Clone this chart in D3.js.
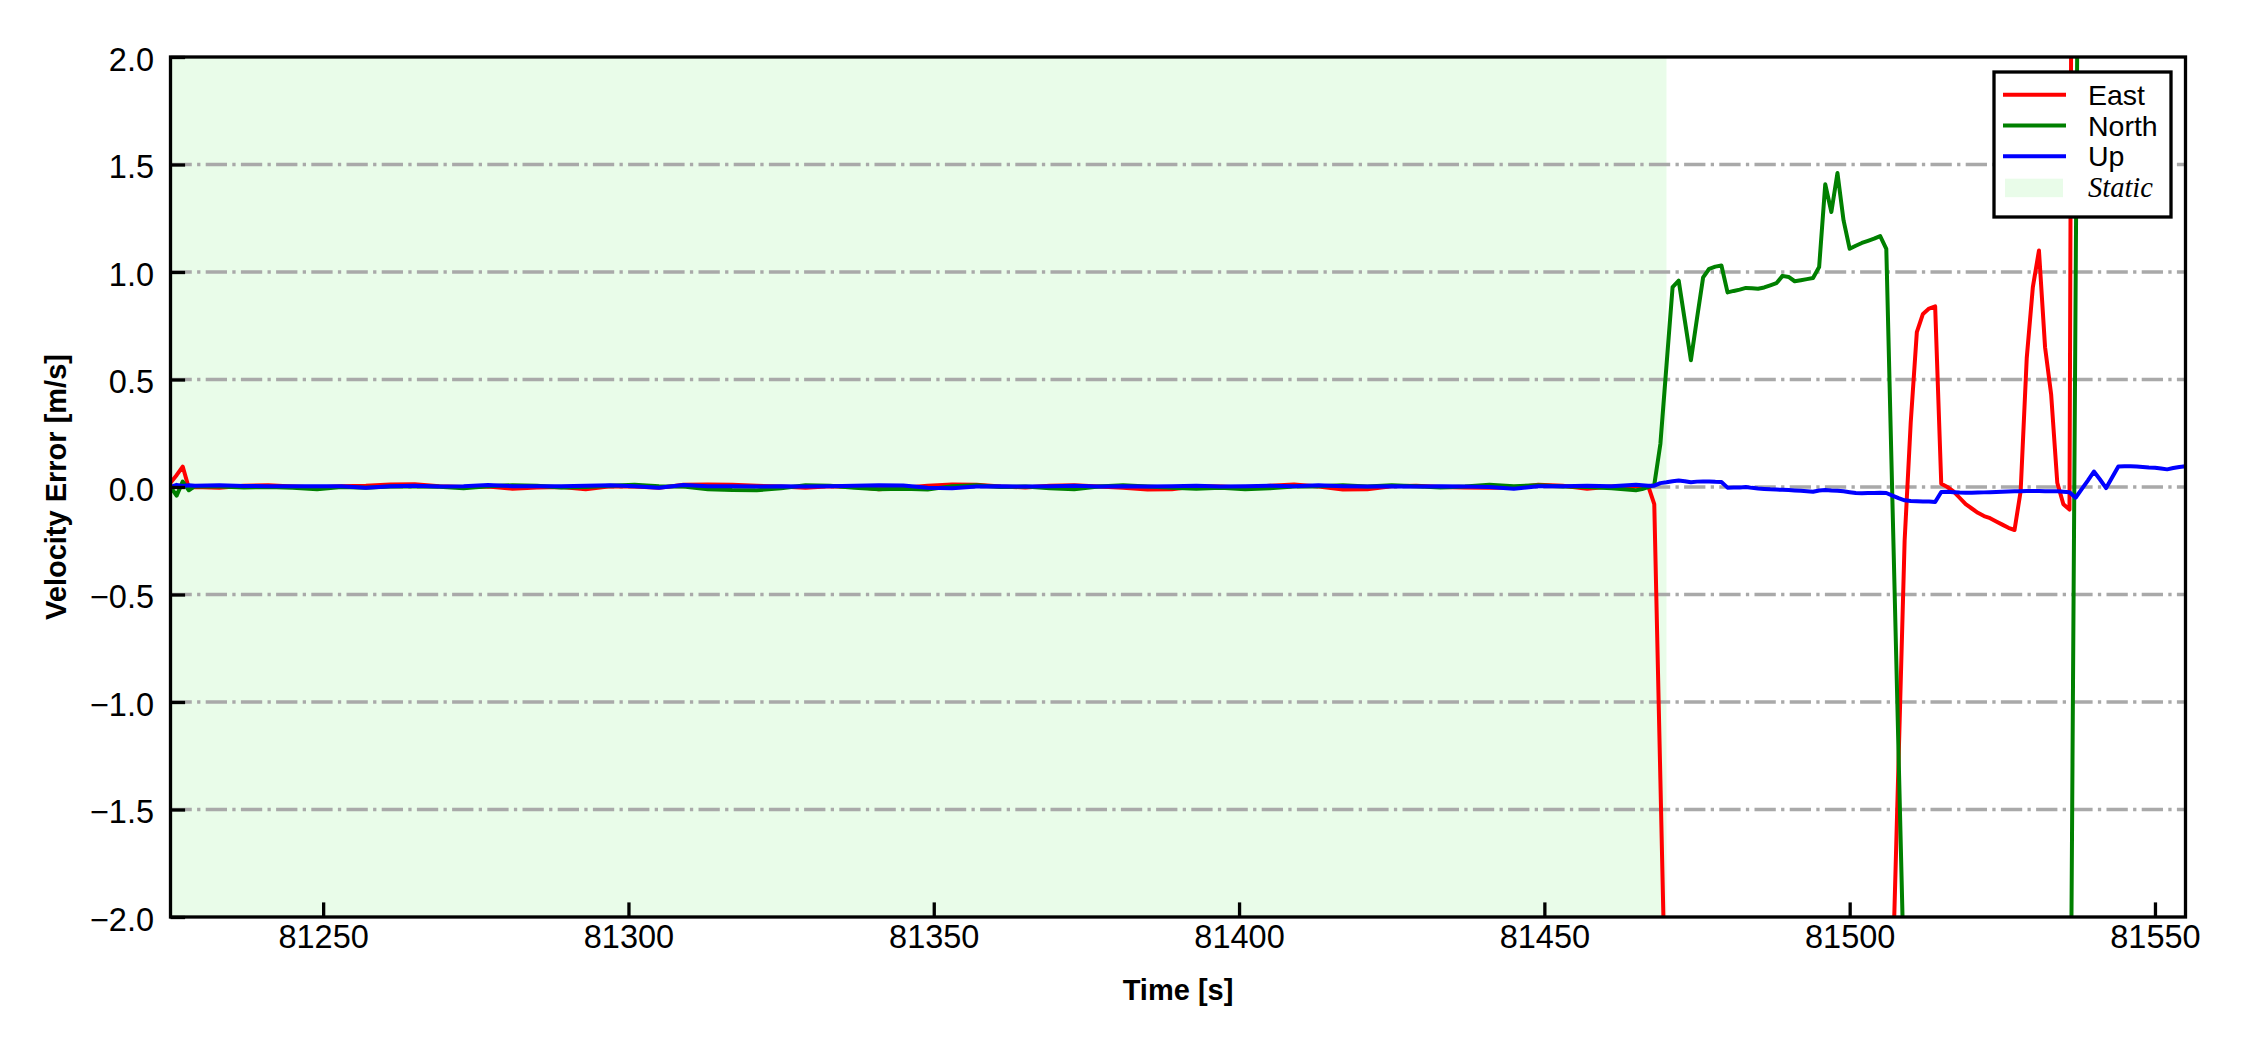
<!DOCTYPE html>
<html>
<head>
<meta charset="utf-8">
<script src="https://cdn.jsdelivr.net/npm/d3@7"></script>
<style>
  body { margin: 0; background: #fff; }
  text { font-family: "Liberation Sans", Arial, sans-serif; fill: #000; }
</style>
</head>
<body>
<svg width="2250" height="1050"></svg>
<script>
// sample times [s] (static part thinned to 4 s, moving part 1 Hz)
var time = [81225, 81226, 81227, 81228,
  81229, 81233, 81237, 81241, 81245, 81249, 81253, 81257, 81261, 81265,
  81269, 81273, 81277, 81281, 81285, 81289, 81293, 81297, 81301, 81305,
  81309, 81313, 81317, 81321, 81325, 81329, 81333, 81337, 81341, 81345,
  81349, 81353, 81357, 81361, 81365, 81369, 81373, 81377, 81381, 81385,
  81389, 81393, 81397, 81401, 81405, 81409, 81413, 81417, 81421, 81425,
  81429, 81433, 81437, 81441, 81445, 81449, 81453, 81457, 81461, 81465,
  81466, 81467, 81468, 81469, 81470, 81471, 81472, 81473, 81474, 81475,
  81476, 81477, 81478, 81479, 81480, 81481, 81482, 81483, 81484, 81485,
  81486, 81487, 81488, 81489, 81490, 81491, 81492, 81493, 81494, 81495,
  81496, 81497, 81498, 81499, 81500, 81501, 81502, 81503, 81504, 81505,
  81506, 81507, 81508, 81509, 81510, 81511, 81512, 81513, 81514, 81515,
  81516, 81517, 81518, 81519, 81520, 81521, 81522, 81523, 81524, 81525,
  81526, 81527, 81528, 81529, 81530, 81531, 81532, 81533, 81534, 81535,
  81536, 81537, 81538, 81539, 81540, 81541, 81542, 81543, 81544, 81545,
  81546, 81547, 81548, 81549, 81550, 81551, 81552, 81553, 81554, 81555];

var east = [0.020, 0.055, 0.095, -0.005,
  0.000, -0.004, 0.006, 0.008, 0.002, -0.002, 0.004, 0.006, 0.012, 0.013,
  0.004, 0.000, 0.002, -0.008, -0.002, 0.000, -0.010, 0.004, 0.002, -0.004,
  0.010, 0.012, 0.010, 0.006, 0.002, -0.004, 0.004, 0.002, -0.010, -0.004,
  0.006, 0.012, 0.010, 0.002, -0.002, 0.006, 0.008, 0.002, -0.004, -0.012,
  -0.010, 0.004, 0.002, -0.004, 0.006, 0.012, 0.002, -0.012, -0.010, 0.004,
  0.006, 0.000, -0.002, -0.004, -0.004, 0.010, 0.006, -0.008, 0.002, 0.004,
  0.004, 0.005, -0.080, -1.36, -2.65, -3.10, -3.40, -3.25, -3.10, -3.05,
  -3.20, -3.30, -3.20, -3.10, -3.00, -3.15, -3.30, -3.40, -3.35, -3.20,
  -3.10, -3.05, -3.15, -3.30, -3.45, -3.50, -3.40, -3.25, -3.10, -3.00,
  -3.20, -3.40, -3.55, -3.50, -3.35, -3.20, -3.10, -3.05, -3.15, -3.00,
  -2.95, -2.31, -1.28, -0.25, 0.30, 0.72, 0.805, 0.83, 0.84, 0.015,
  0.000, -0.020, -0.050, -0.080, -0.100, -0.120, -0.135, -0.145, -0.160, -0.175,
  -0.190, -0.200, -0.020, 0.600, 0.930, 1.100, 0.650, 0.430, 0.020, -0.080,
  -0.105, 8.00, 8.40, 8.10, 7.80, 7.60, 7.90, 8.20, 8.50, 8.30,
  8.00, 7.70, 7.50, 7.80, 8.10, 8.40, 8.20, 7.90, 7.70, 7.60];

var north = [0.000, -0.040, 0.025, -0.015,
  0.004, 0.002, -0.002, 0.000, -0.004, -0.010, 0.000, -0.003, 0.002, 0.004,
  0.001, -0.006, 0.004, 0.008, 0.006, -0.002, 0.000, 0.006, 0.011, 0.004,
  0.002, -0.010, -0.014, -0.015, -0.006, 0.008, 0.006, -0.004, -0.010, -0.008,
  -0.012, 0.004, 0.008, 0.000, 0.002, -0.006, -0.010, 0.002, 0.008, 0.002,
  -0.004, -0.008, -0.004, -0.010, -0.006, 0.002, 0.004, 0.008, 0.002, 0.008,
  0.004, -0.002, 0.002, 0.010, 0.004, 0.008, 0.002, 0.000, -0.006, -0.015,
  -0.010, 0.000, 0.010, 0.200, 0.565, 0.930, 0.960, 0.775, 0.590, 0.785,
  0.975, 1.015, 1.025, 1.030, 0.905, 0.912, 0.918, 0.926, 0.924, 0.922,
  0.928, 0.938, 0.948, 0.982, 0.977, 0.957, 0.962, 0.967, 0.972, 1.023,
  1.408, 1.279, 1.460, 1.240, 1.108, 1.122, 1.135, 1.145, 1.155, 1.167,
  1.108, -0.062, -1.232, -2.402, -3.10, -3.30, -3.45, -3.50, -3.40, -3.25,
  -3.15, -3.20, -3.35, -3.50, -3.60, -3.55, -3.40, -3.30, -3.25, -3.35,
  -3.50, -3.60, -3.70, -3.65, -3.50, -3.40, -3.30, -3.35, -3.45, -3.50,
  -3.40, 0.90, 5.20, 5.60, 5.80, 5.50, 5.30, 5.60, 5.90, 6.10,
  5.90, 5.70, 5.50, 5.40, 5.60, 5.80, 6.00, 5.90, 5.70, 5.60];

var up = [0.000, 0.010, 0.005, 0.008,
  0.006, 0.008, 0.005, 0.004, 0.004, 0.003, 0.004, -0.003, 0.003, 0.006,
  0.002, 0.004, 0.009, 0.004, 0.003, 0.004, 0.006, 0.008, 0.004, -0.003,
  0.009, 0.003, 0.004, 0.002, 0.004, 0.002, 0.004, 0.006, 0.008, 0.007,
  -0.004, -0.006, 0.002, 0.004, 0.002, 0.004, 0.006, 0.002, 0.004, 0.002,
  0.004, 0.006, 0.002, 0.004, 0.006, 0.004, 0.008, 0.004, 0.002, 0.004,
  0.002, 0.004, 0.002, 0.000, -0.008, 0.004, 0.004, 0.006, 0.004, 0.010,
  0.008, 0.006, 0.006, 0.018, 0.022, 0.027, 0.030, 0.027, 0.022, 0.025,
  0.026, 0.026, 0.024, 0.023, -0.003, -0.002, -0.002, 0.000, -0.004, -0.007,
  -0.009, -0.011, -0.012, -0.013, -0.014, -0.016, -0.018, -0.020, -0.022, -0.016,
  -0.014, -0.016, -0.017, -0.020, -0.024, -0.028, -0.029, -0.028, -0.028, -0.027,
  -0.028, -0.040, -0.052, -0.062, -0.065, -0.066, -0.067, -0.068, -0.070, -0.023,
  -0.022, -0.024, -0.026, -0.027, -0.027, -0.026, -0.025, -0.024, -0.023, -0.022,
  -0.021, -0.020, -0.020, -0.019, -0.019, -0.019, -0.020, -0.020, -0.020, -0.022,
  -0.024, -0.050, -0.010, 0.030, 0.072, 0.035, -0.005, 0.045, 0.095, 0.096,
  0.096, 0.095, 0.093, 0.091, 0.090, 0.086, 0.082, 0.088, 0.093, 0.097];

var seriesNames = ["East", "North", "Up"];
var seriesColors = ["#ff0000", "#008000", "#0000ff"];
var staticSpan = [81225, 81470];
var xTicks = [81250, 81300, 81350, 81400, 81450, 81500, 81550];
var yTicks = [-2.0, -1.5, -1.0, -0.5, 0.0, 0.5, 1.0, 1.5, 2.0];
var gridTicks = [-1.5, -1.0, -0.5, 0.0, 0.5, 1.0, 1.5];

var svg = d3.select("svg"),
    margin = {top: 57, right: 64.5, bottom: 133, left: 170.5},
    width = +svg.attr("width") - margin.left - margin.right,
    height = +svg.attr("height") - margin.top - margin.bottom;

var x = d3.scaleLinear().domain([81225, 81555]).range([0, width]);
var y = d3.scaleLinear().domain([-2, 2]).range([height, 0]);

var lw = 3.3;

var g = svg.append("g").attr("transform", "translate(" + margin.left + "," + margin.top + ")");

svg.append("defs").append("clipPath").attr("id", "plotclip")
  .append("rect").attr("width", width).attr("height", height);

// static shading
g.append("rect")
    .attr("x", x(staticSpan[0]))
    .attr("y", 0)
    .attr("width", x(staticSpan[1]) - x(staticSpan[0]))
    .attr("height", height)
    .attr("fill", "#e9fce9");

// horizontal dash-dot grid
g.append("g").selectAll("line")
  .data(gridTicks)
  .enter().append("line")
    .attr("x1", 0)
    .attr("x2", width)
    .attr("y1", function(d) { return y(d); })
    .attr("y2", function(d) { return y(d); })
    .attr("stroke", "#a9a9a9")
    .attr("stroke-width", lw)
    .attr("stroke-dasharray", "21.3,5.3,3.3,5.3");

var series = [east, north, up].map(function(vals, i) {
  return {
    name: seriesNames[i],
    color: seriesColors[i],
    values: time.map(function(t, j) { return {t: t, v: vals[j]}; })
  };
});

var line = d3.line()
    .x(function(d) { return x(d.t); })
    .y(function(d) { return y(d.v); });

g.append("g")
    .attr("clip-path", "url(#plotclip)")
  .selectAll("path")
  .data(series)
  .enter().append("path")
    .attr("d", function(d) { return line(d.values); })
    .attr("fill", "none")
    .attr("stroke", function(d) { return d.color; })
    .attr("stroke-width", 4)
    .attr("stroke-linejoin", "round");

// axes, ticks pointing inward
var xAxis = g.append("g")
    .attr("transform", "translate(0," + height + ")")
    .call(d3.axisBottom(x).tickValues(xTicks).tickFormat(d3.format("d"))
      .tickSizeInner(-14.6).tickSizeOuter(0).tickPadding(8));

var yAxis = g.append("g")
    .call(d3.axisLeft(y).tickValues(yTicks).tickFormat(d3.format(".1f"))
      .tickSizeInner(-14.6).tickSizeOuter(0).tickPadding(16.5));

[xAxis, yAxis].forEach(function(ax) {
  ax.select(".domain").remove();
  ax.selectAll(".tick line").attr("stroke", "#000").attr("stroke-width", lw);
  ax.selectAll(".tick text")
      .attr("font-family", "Liberation Sans, Arial, sans-serif")
      .attr("font-size", 32.5)
      .attr("fill", "#000");
});
yAxis.selectAll(".tick text").attr("dy", "0.4em");

// spines
g.append("rect")
    .attr("width", width)
    .attr("height", height)
    .attr("fill", "none")
    .attr("stroke", "#000")
    .attr("stroke-width", lw);

svg.append("text")
    .attr("x", margin.left + width / 2)
    .attr("y", 1000)
    .attr("text-anchor", "middle")
    .attr("font-size", 29)
    .attr("font-weight", "bold")
    .text("Time [s]");

svg.append("text")
    .attr("transform", "translate(66," + (margin.top + height / 2) + ") rotate(-90)")
    .attr("text-anchor", "middle")
    .attr("font-size", 29)
    .attr("font-weight", "bold")
    .text("Velocity Error [m/s]");

// legend
var legend = svg.append("g").attr("transform", "translate(1994,72)");

legend.append("rect")
    .attr("width", 177)
    .attr("height", 145)
    .attr("fill", "#fff")
    .attr("stroke", "#000")
    .attr("stroke-width", lw);

var rowH = 30.8;

series.forEach(function(s, i) {
  var cy = 22.7 + i * rowH;
  legend.append("line")
      .attr("x1", 9).attr("x2", 72)
      .attr("y1", cy).attr("y2", cy)
      .attr("stroke", s.color)
      .attr("stroke-width", 4);
  legend.append("text")
      .attr("x", 94)
      .attr("y", cy + 10)
      .attr("font-size", 28.5)
      .text(s.name);
});

legend.append("rect")
    .attr("x", 11).attr("y", 106.7)
    .attr("width", 58).attr("height", 18.5)
    .attr("fill", "#e9fce9");

legend.append("text")
    .attr("x", 94)
    .attr("y", 125)
    .attr("font-size", 28.5)
    .attr("font-style", "italic")
    .style("font-family", "Liberation Serif, Times New Roman, serif")
    .text("Static");
</script>
</body>
</html>
